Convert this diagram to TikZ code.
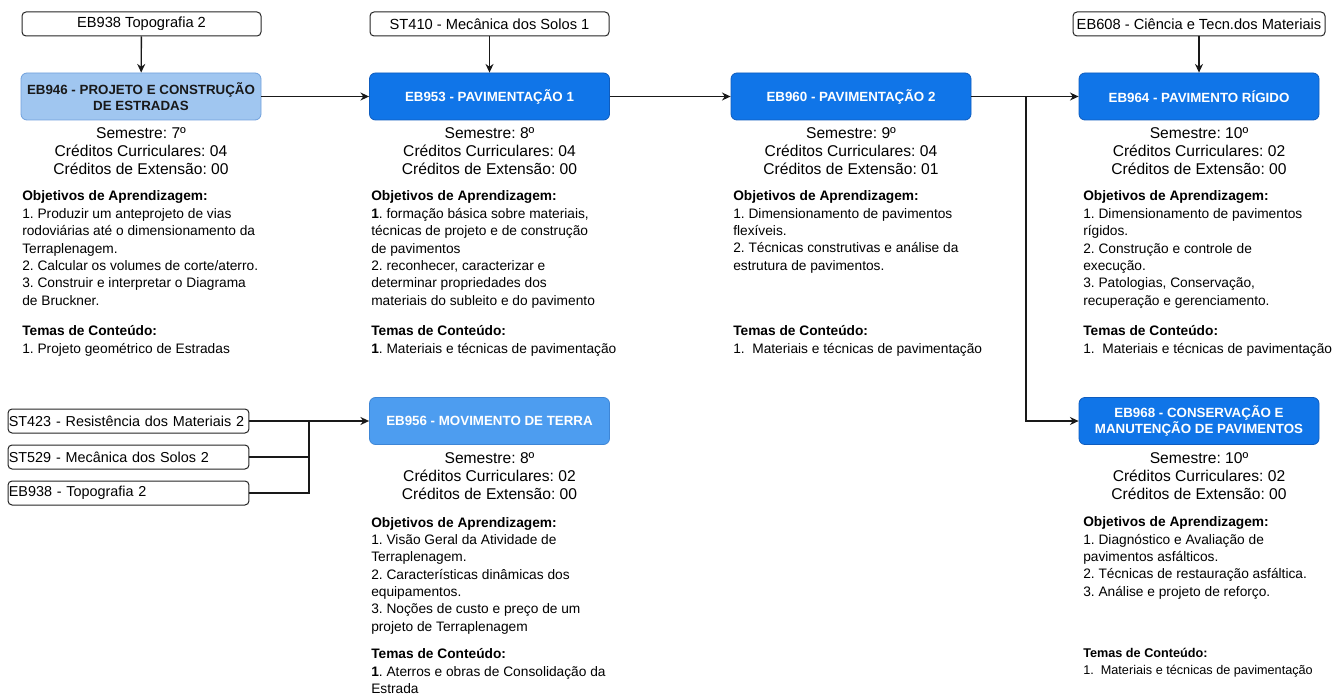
\documentclass[tikz,border=0pt]{standalone}
\usepackage{fontspec}
\setmainfont{Liberation Sans}
\usetikzlibrary{arrows.meta}
\frenchspacing
\definecolor{blueA}{RGB}{16,117,232}
\definecolor{blueAline}{RGB}{14,92,190}
\definecolor{blueB}{RGB}{77,157,240}
\definecolor{blueBline}{RGB}{62,134,214}
\definecolor{blueC}{RGB}{160,198,240}
\definecolor{blueCline}{RGB}{112,160,220}

\begin{document}
% every text block below is placed by the baseline of its last line
\begin{tikzpicture}[x=0.75pt,y=-0.75pt,
  course/.style={rounded corners=4.5pt, minimum width=180pt, minimum height=35.25pt,
    align=center, inner sep=2pt, line width=0.6pt,
    font=\bfseries\fontsize{10}{11.5}\selectfont},
  strong/.style={course, fill=blueA, draw=blueAline, text=white},
  medium/.style={course, fill=blueB, draw=blueBline, text=white},
  pale/.style={course, fill=blueC, draw=blueCline, text=black!90},
  prereq/.style={draw=black!85, fill=white, rounded corners=3pt, minimum height=18pt,
    line width=0.75pt, inner sep=1.5pt, font=\fontsize{11}{13}\selectfont},
  prereqleft/.style={prereq, text width=179.5pt, align=left, inner xsep=0.6pt,
    font=\fontsize{10.8}{12}\selectfont},
  info/.style={anchor=base, align=center, inner sep=0pt,
    font=\fontsize{11.7}{13.5}\selectfont},
  body/.style={anchor=base west, align=left, inner sep=0pt,
    font=\fontsize{10.3}{13}\selectfont},
  smallbody/.style={anchor=base west, align=left, inner sep=0pt,
    font=\fontsize{9.5}{12.75}\selectfont},
  link/.style={line width=1pt, draw=black!90, -{Stealth[length=6.5pt,width=6pt]}},
  wire/.style={line width=1pt, draw=black!90}
]
\useasboundingbox (0,0) rectangle (1344,695);

% prerequisite boxes on top
\node[prereq, minimum width=179.25pt] (p938) at (141.5,24) {EB938 Topografia 2};
\node[prereq, minimum width=179.25pt] (p410) at (489.5,24) {ST410 - Mecânica dos Solos 1};
\node[prereq, minimum width=189pt] (p608) at (1199,24) {EB608 - Ciência e Tecn.dos Materiais};

% course boxes
\node[pale]   (c946) at (141,96.5)   {EB946 - PROJETO E CONSTRUÇÃO\\DE ESTRADAS};
\node[strong] (c953) at (489.5,96.5) {EB953 - PAVIMENTAÇÃO 1};
\node[strong] (c960) at (851,96.5)   {EB960 - PAVIMENTAÇÃO 2};
\node[strong] (c964) at (1199,96.5)  {EB964 - PAVIMENTO RÍGIDO};
\node[medium] (c956) at (489.5,421)  {EB956 - MOVIMENTO DE TERRA};
\node[strong] (c968) at (1199,421)   {EB968 - CONSERVAÇÃO E\\MANUTENÇÃO DE PAVIMENTOS};

% prerequisite boxes on the left
\node[prereqleft] (p423) at (128.5,421) {ST423 - Resistência dos Materiais 2};
\node[prereqleft] (p529) at (128.5,457) {ST529 - Mecânica dos Solos 2};
\node[prereqleft] (p938b) at (128.5,493) {EB938 - Topografia 2};

% connectors
\draw[link] (p938) -- (c946);
\draw[link] (p410) -- (c953);
\draw[link] (p608) -- (c964);
\draw[link] (c946) -- (c953);
\draw[link] (c953) -- (c960);
\coordinate (split) at (1026,96.5);
\draw[wire] (c960.east) -- (split);
\draw[link] (split) -- (c964.west);
\draw[link] (split) |- (c968.west);
\coordinate (merge) at (309,421);
\draw[link] (p423.east) -- (c956.west);
\draw[wire] (p529.east) -| (merge);
\draw[wire] (p938b.east) -| (merge);

% credit summaries
\node[info] (i946) at (141,175)   {Semestre: 7º\\Créditos Curriculares: 04\\Créditos de Extensão: 00};
\node[info] (i953) at (489.5,175) {Semestre: 8º\\Créditos Curriculares: 04\\Créditos de Extensão: 00};
\node[info] (i960) at (851,175)   {Semestre: 9º\\Créditos Curriculares: 04\\Créditos de Extensão: 01};
\node[info] (i964) at (1199,175)  {Semestre: 10º\\Créditos Curriculares: 02\\Créditos de Extensão: 00};
\node[info] (i956) at (489.5,499) {Semestre: 8º\\Créditos Curriculares: 02\\Créditos de Extensão: 00};
\node[info] (i968) at (1199,499)  {Semestre: 10º\\Créditos Curriculares: 02\\Créditos de Extensão: 00};

% learning goals
\node[body] (o946) at (22,305) {\textbf{Objetivos de Aprendizagem:}\\
  1. Produzir um anteprojeto de vias\\rodoviárias até o dimensionamento da\\Terraplenagem.\\
  2. Calcular os volumes de corte/aterro.\\3. Construir e interpretar o Diagrama\\de Bruckner.};
\node[body] (o953) at (371,305) {\textbf{Objetivos de Aprendizagem:}\\
  \textbf{1}. formação básica sobre materiais,\\técnicas de projeto e de construção\\de pavimentos\\
  2. reconhecer, caracterizar e\\determinar propriedades dos\\materiais do subleito e do pavimento};
\node[body] (o960) at (733,270.3) {\textbf{Objetivos de Aprendizagem:}\\
  1. Dimensionamento de pavimentos\\flexíveis.\\2. Técnicas construtivas e análise da\\estrutura de pavimentos.};
\node[body] (o964) at (1083,305) {\textbf{Objetivos de Aprendizagem:}\\
  1. Dimensionamento de pavimentos\\rígidos.\\2. Construção e controle de\\execução.\\
  3. Patologias, Conservação,\\recuperação e gerenciamento.};
\node[body] (o956) at (371,631) {\textbf{Objetivos de Aprendizagem:}\\
  1. Visão Geral da Atividade de\\Terraplenagem.\\2. Características dinâmicas dos\\equipamentos.\\
  3. Noções de custo e preço de um\\projeto de Terraplenagem};
\node[body] (o968) at (1083,596.3) {\textbf{Objetivos de Aprendizagem:}\\
  1. Diagnóstico e Avaliação de\\pavimentos asfálticos.\\2. Técnicas de restauração asfáltica.\\
  3. Análise e projeto de reforço.};

% content topics
\node[body] (t946) at (22,353.3)   {\textbf{Temas de Conteúdo:}\\1. Projeto geométrico de Estradas};
\node[body] (t953) at (371,353.3)  {\textbf{Temas de Conteúdo:}\\\textbf{1}. Materiais e técnicas de pavimentação};
\node[body] (t960) at (733,353.3)  {\textbf{Temas de Conteúdo:}\\1.\ \ Materiais e técnicas de pavimentação};
\node[body] (t964) at (1083,353.3) {\textbf{Temas de Conteúdo:}\\1.\ \ Materiais e técnicas de pavimentação};
\node[body] (t956) at (371,693.5)  {\textbf{Temas de Conteúdo:}\\\textbf{1}. Aterros e obras de Consolidação da\\Estrada};
\node[smallbody] (t968) at (1083,674) {\textbf{Temas de Conteúdo:}\\1.\ \ Materiais e técnicas de pavimentação};
\end{tikzpicture}
\end{document}
